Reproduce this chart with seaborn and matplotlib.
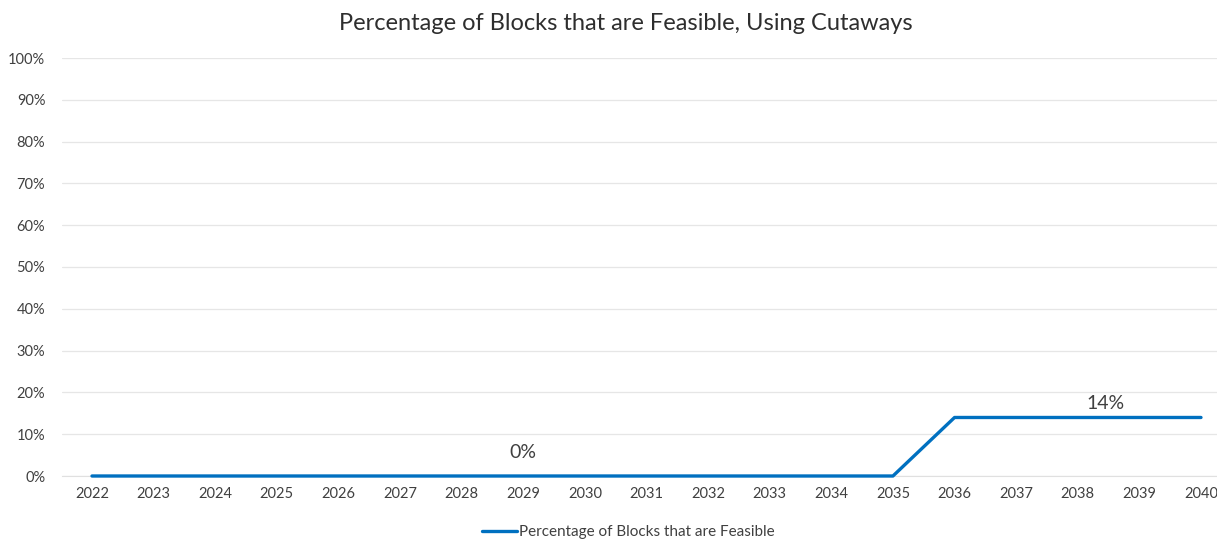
import matplotlib
matplotlib.use("Agg")
import matplotlib.pyplot as plt
import seaborn as sns
import pandas as pd

years = list(range(2022, 2041))
feasible_pct = [0.0] * 14 + [0.14] * 5
series_name = "Percentage of Blocks that are Feasible"
title = "Percentage of Blocks that are Feasible, Using Cutaways"
y_ticks = [i / 10 for i in range(11)]
y_tick_labels = [f"{i * 10}%" for i in range(11)]
value_labels = [(2029, 0.0), (2038, 0.14)]

df = pd.DataFrame({"Year": years, "Value": feasible_pct, "Series": series_name})

sns.set_style("white")
plt.rcParams["font.family"] = ["Lato", "DejaVu Sans"]

fig = plt.figure(figsize=(12.17, 5.4), dpi=100)
ax = fig.add_axes([62 / 1217, (540 - 476) / 540, 1 - 62 / 1217, (476 - 58) / 540])

line_color = "#0070C0"
sns.lineplot(data=df, x="Year", y="Value", hue="Series", palette=[line_color],
             linewidth=2.4, ax=ax, clip_on=False, zorder=3)

ax.set_xlim(2022 - 30 / 61.61, 2040 + 16 / 61.61)
ax.set_ylim(0, 1)
ax.set_yticks(y_ticks)
ax.set_yticklabels(y_tick_labels)
ax.set_xticks(years)
ax.set_xticklabels([str(y) for y in years])
ax.tick_params(axis="both", length=0, labelsize=10.5, colors="#404040")
ax.tick_params(axis="y", pad=12)
ax.tick_params(axis="x", pad=8)
ax.grid(axis="y", color="#e6e6e6", linewidth=0.9)
ax.set_axisbelow(True)
for side in ["top", "right", "left"]:
    ax.spines[side].set_visible(False)
ax.spines["bottom"].set_color("#e0e0e0")
ax.set_xlabel("")
ax.set_ylabel("")

# data labels: small shift so they sit like the chart's callouts
label_offsets = {2029: (0, 11), 2038: (20, 4)}
for yr, val in value_labels:
    ax.annotate(f"{val * 100:.0f}%", (yr, val), xytext=label_offsets[yr], textcoords="offset points",
                ha="center", va="bottom", fontsize=14, color="#404040")

fig.text(626 / 1217, 1 - 24 / 540, title, ha="center", va="center", fontsize=17, color="#2e2e2e")

leg = ax.legend(loc="center", bbox_to_anchor=((628 - 62) / 1155, (476 - 532) / 418),
                frameon=False, fontsize=11, handlelength=2.3, handletextpad=0.1)
for t in leg.get_texts():
    t.set_color("#404040")

fig.savefig("out.png", dpi=100)
